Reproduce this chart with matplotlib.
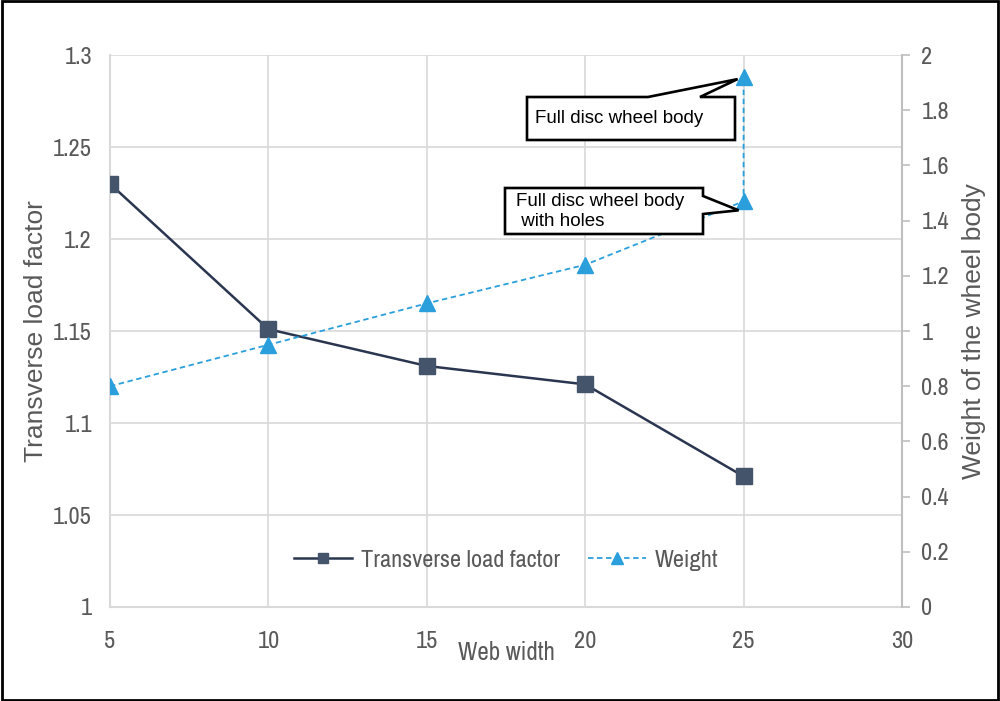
import matplotlib
matplotlib.use("Agg")
import matplotlib.pyplot as plt
from matplotlib.patches import Rectangle, Polygon
from matplotlib.transforms import IdentityTransform
from matplotlib import font_manager

names = sorted({f.name for f in font_manager.fontManager.ttflist})
narrow = [n for n in names if 'Narrow' in n or 'Condensed' in n]
narrow_family = narrow[0] if narrow else 'Liberation Sans'
plt.rcParams['font.family'] = [narrow_family, 'Liberation Sans', 'DejaVu Sans']
regular = ['Liberation Sans', 'DejaVu Sans']

web_width = [5, 10, 15, 20, 25]
load_factor = [1.23, 1.151, 1.131, 1.121, 1.071]
weight_x = [5, 10, 15, 20, 25, 25]
weight = [0.80, 0.95, 1.10, 1.24, 1.47, 1.92]
x_ticks = [5, 10, 15, 20, 25, 30]
left_ticks = [1, 1.05, 1.1, 1.15, 1.2, 1.25, 1.3]
right_ticks = [0, 0.2, 0.4, 0.6, 0.8, 1, 1.2, 1.4, 1.6, 1.8, 2]
callout_full = 'Full disc wheel body'
callout_holes = 'Full disc wheel body\n with holes'

navy_line = '#2A3650'
navy_mark = '#44546A'
blue = '#2A9FDC'
gray_txt = '#595959'
grid_c = '#D9D9D9'

W, H = 1000, 701
fig = plt.figure(figsize=(10, 7.01), dpi=100)
ax = fig.add_axes([0.11, 0.1341, 0.792, 0.7874])
ax2 = ax.twinx()

l1, = ax.plot(web_width, load_factor, color=navy_line, lw=1.8, marker='s',
              markersize=11, markerfacecolor=navy_mark, markeredgecolor=navy_mark,
              label='Transverse load factor', zorder=3)
l2, = ax2.plot(weight_x, weight, color=blue, lw=1.3, ls=(0, (3, 2)), marker='^',
               markersize=12, markerfacecolor=blue, markeredgecolor=blue,
               label='Weight', zorder=3)

ax.set_xlim(5, 30)
ax.set_ylim(1, 1.3)
ax2.set_ylim(0, 2)
ax.set_xticks(x_ticks)
ax.set_xticklabels([str(v) for v in x_ticks])
ax.set_yticks(left_ticks)
ax.set_yticklabels(['1', '1.05', '1.1', '1.15', '1.2', '1.25', '1.3'])
ax2.set_yticks(right_ticks)
ax2.set_yticklabels(['0', '0.2', '0.4', '0.6', '0.8', '1', '1.2', '1.4', '1.6', '1.8', '2'])

ax.grid(True, color=grid_c, lw=1.2)
ax.set_axisbelow(True)
for a in (ax, ax2):
    for s in a.spines.values():
        s.set_visible(False)
ax.spines['left'].set_visible(True)
ax.spines['left'].set_color(grid_c)
ax.spines['left'].set_linewidth(1.5)
ax.spines['bottom'].set_visible(True)
ax.spines['bottom'].set_color(grid_c)
ax.spines['bottom'].set_linewidth(1.5)
ax2.spines['right'].set_visible(True)
ax2.spines['right'].set_color('#BFBFBF')
ax2.spines['right'].set_linewidth(1.5)

ax.tick_params(axis='x', length=0, pad=17, labelsize=17.5, labelcolor=gray_txt)
ax.tick_params(axis='y', length=0, pad=13, labelsize=17.5, labelcolor=gray_txt)
ax2.tick_params(axis='y', length=6, width=1.2, color='#BFBFBF', pad=8,
                labelsize=17.5, labelcolor=gray_txt)

ax.set_ylabel('Transverse load factor', fontsize=19, color=gray_txt, labelpad=4,
              family=regular)
ax2.set_ylabel('Weight of the wheel body', fontsize=19, color=gray_txt, labelpad=9,
               family=regular)
ax.text(0.5, -0.082, 'Web width', transform=ax.transAxes, ha='center', va='center',
        fontsize=18, color=gray_txt)

leg = ax.legend(handles=[l1, l2], loc='center', bbox_to_anchor=(0.5, 0.085),
                ncol=2, frameon=False, fontsize=17.5, handlelength=2.4,
                columnspacing=1.15, handletextpad=0.35, labelcolor=gray_txt,
                markerscale=0.7)

# callouts (pixel layout, tips anchored to the data points)
fig.canvas.draw()
pix = IdentityTransform()

def P(x, y):
    return (x, H - y)

tip1 = ax2.transData.transform((weight_x[5], weight[5]))
tip1 = (tip1[0] - 6, tip1[1] - 2)
tip2 = ax2.transData.transform((weight_x[4], weight[4]))
tip2 = (tip2[0] - 5, tip2[1] - 9)

poly1 = [P(527, 97), P(648, 97), tip1, P(700, 97), P(735, 97), P(735, 140), P(527, 140)]
poly2 = [P(505, 188), P(703, 188), P(703, 196), tip2, P(703, 214), P(703, 234), P(505, 234)]
for poly in (poly1, poly2):
    fig.patches.append(Polygon(poly, closed=True, transform=pix, fc='white',
                               ec='black', lw=1.9, joinstyle='miter', zorder=5))
fig.text(535 / W, 1 - 118.5 / H, callout_full, fontsize=13.5, family=regular,
         ha='left', va='center', color='black', zorder=6)
fig.text(516 / W, 1 - 211.5 / H, callout_holes, fontsize=13.5, family=regular,
         ha='left', va='center', color='black', linespacing=1.25, zorder=6)

fig.patches.append(Rectangle((0.002, 0.002), 0.996, 0.996, transform=fig.transFigure,
                             fill=False, ec='black', lw=2))
fig.savefig('out.png', dpi=100)
